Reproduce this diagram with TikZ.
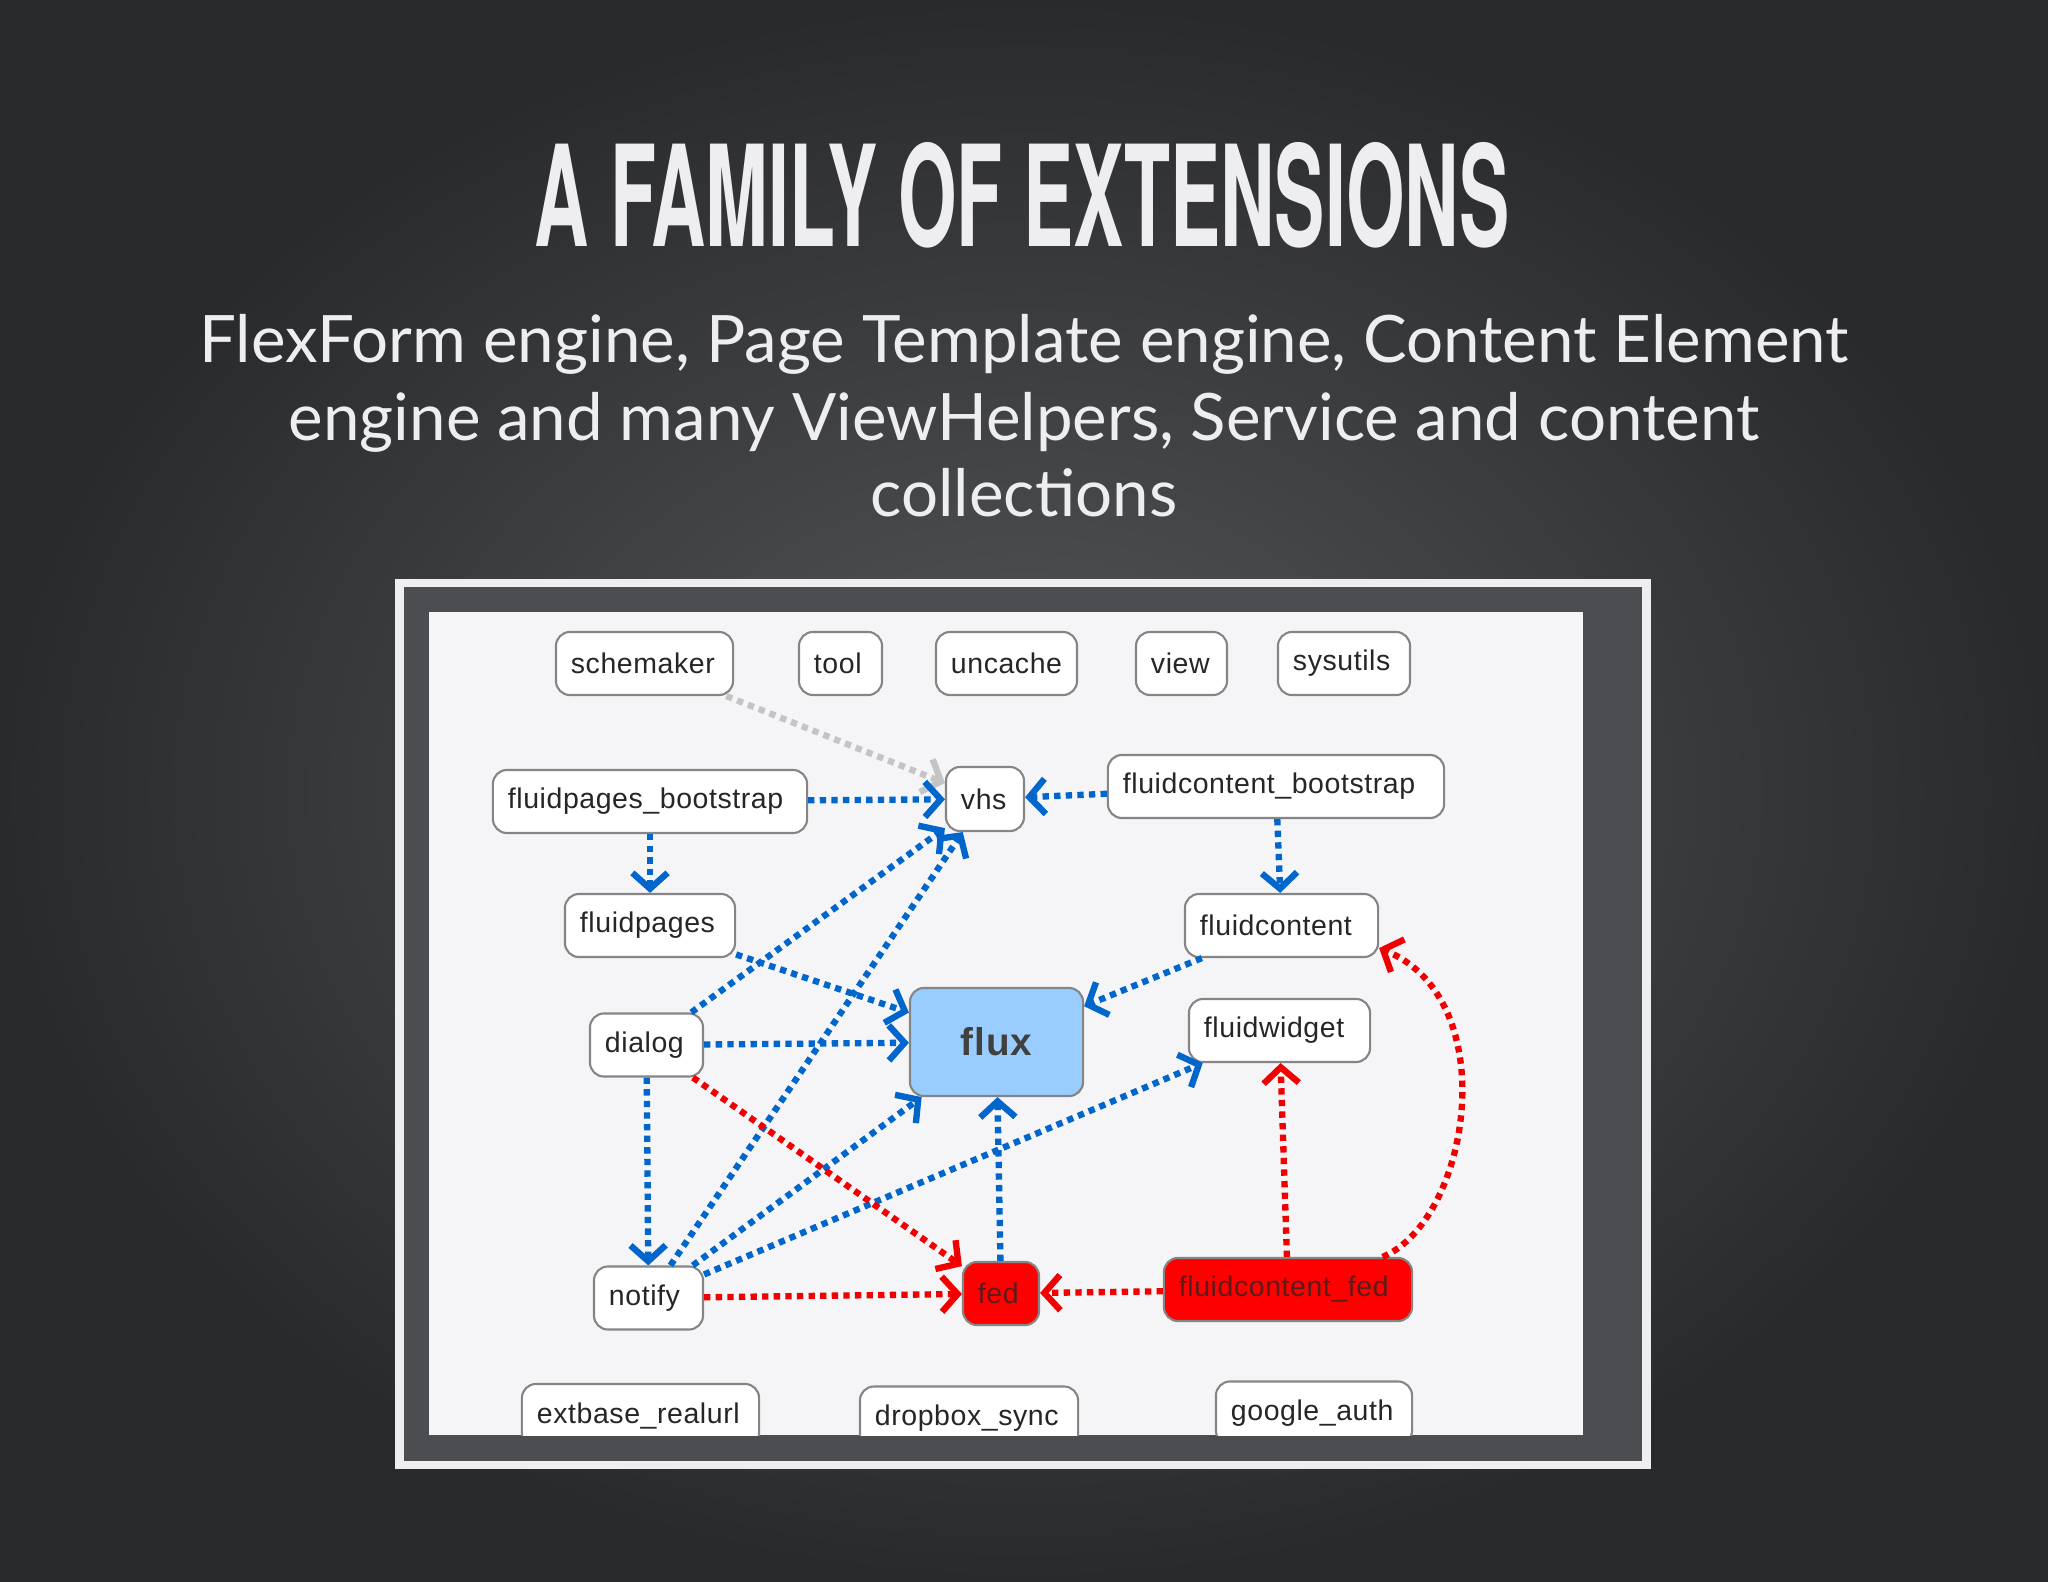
\documentclass[tikz,border=0pt]{standalone}
\usepackage{fontspec}
\setmainfont{Liberation Sans}[LetterSpace=2]
\newfontfamily\latofont{Lato}
\newfontfamily\headfont{TeX Gyre Heros}
\usepackage{graphicx}
\usetikzlibrary{arrows.meta,calc}
\definecolor{bgdark}{HTML}{292A2C}
\definecolor{bglight}{HTML}{55575A}
\definecolor{framedark}{HTML}{4C4D51}
\definecolor{framewhite}{HTML}{EEEEF0}
\definecolor{canvas}{HTML}{F5F5F7}
\definecolor{edgeblue}{HTML}{0066CC}
\definecolor{edgered}{HTML}{F00000}
\definecolor{edgegray}{HTML}{C4C4C4}
\definecolor{boxline}{HTML}{858585}
\definecolor{fluxblue}{HTML}{99CCFF}
\definecolor{fedtext}{HTML}{5E1A1A}
\tikzstyle{pkg}=[shape=rectangle, rounded corners=0.14cm, draw=boxline, line width=0.6pt, fill=white, minimum height=0.63cm, inner xsep=0.15cm, inner ysep=0, align=left, font=\fontsize{8.1}{10}\selectfont, text=black!85]
\tikzstyle{fedpkg}=[pkg, fill=red, text=fedtext]
\tikzstyle{sub}=[anchor=base, inner sep=0, text=framewhite, font=\latofont\fontsize{18.6}{21}\selectfont]
\tikzstyle{dep}=[line width=1.8pt, dash pattern=on 1.8pt off 1.5pt, -{Straight Barb[length=4.5pt,width=10pt]}]
\tikzstyle{bdep}=[dep, draw=edgeblue]
\tikzstyle{rdep}=[dep, draw=edgered]
\tikzstyle{gdep}=[dep, draw=edgegray]

\begin{document}
\begin{tikzpicture}[x=0.01cm, y=-0.01cm]
\useasboundingbox (0,0) rectangle (2048,1582);
\shade[inner color=bglight, outer color=bgdark] (0,0) rectangle (2048,1582);
%
\draw (1022,247) node[anchor=base, inner sep=0, text=framewhite] (title) {\resizebox{9.74cm}{1.04cm}{\headfont\bfseries A FAMILY OF EXTENSIONS}};
\draw (1024,362) node[sub] (sub1) {FlexForm engine, Page Template engine, Content Element};
\draw (1024,440) node[sub] (sub2) {engine and many ViewHelpers, Service and content};
\draw (1024,516) node[sub] (sub3) {collections};
%
\fill[framewhite] (395,579) rectangle (1651,1469);
\fill[framedark] (404,587) rectangle (1642,1461);
\fill[canvas] (429,612) rectangle (1583,1435);
%
\begin{scope}
\clip (429,612) rectangle (1583,1435);
\draw (644.5,663.5) node[pkg, text width=1.47cm] (schemaker) {schemaker};
\draw (840.5,663.5) node[pkg, text width=0.53cm] (tool) {tool};
\draw (1006.5,663.5) node[pkg, text width=1.11cm] (uncache) {uncache};
\draw (1181.5,663.5) node[pkg, text width=0.61cm] (view) {view};
\draw (1344,663.5) node[pkg, text width=1.02cm] (sysutils) {sysutils};
%
\draw (650,801.5) node[pkg, text width=2.84cm] (fpb) {fluidpages\_bootstrap};
\draw (985,799) node[pkg, text width=0.48cm, minimum height=0.64cm] (vhs) {vhs};
\draw (1276,786.5) node[pkg, text width=3.06cm] (fcb) {fluidcontent\_bootstrap};
\draw (650,925.5) node[pkg, text width=1.40cm] (fpages) {fluidpages};
\draw (1281.5,925.5) node[pkg, text width=1.63cm] (fcontent) {fluidcontent};
\draw (996.5,1042) node[pkg, fill=fluxblue, text=black!75, align=center, text width=1.43cm, minimum height=1.08cm, font=\bfseries\fontsize{11}{13}\selectfont] (flux) {flux};
\draw (1279.5,1030.5) node[pkg, text width=1.51cm] (fwidget) {fluidwidget};
\draw (646.5,1045) node[pkg, text width=0.83cm] (dialog) {dialog};
\draw (648.5,1298) node[pkg, text width=0.79cm] (notify) {notify};
\draw (1001,1293.5) node[fedpkg, text width=0.46cm] (fed) {fed};
\draw (1288,1289.5) node[fedpkg, text width=2.18cm] (fcfed) {fluidcontent\_fed};
%
\draw (640.5,1415.5) node[pkg, text width=2.07cm] (realurl) {extbase\_realurl};
\draw (969,1418) node[pkg, text width=1.88cm] (dropbox) {dropbox\_sync};
\draw (1314,1413) node[pkg, text width=1.66cm] (gauth) {google\_auth};
%
\draw[gdep] (schemaker)--(vhs);
\foreach \a/\b in {fpb/vhs, fcb/vhs, fpb/fpages, fcb/fcontent, fpages/flux, fcontent/flux, dialog/vhs, dialog/flux, dialog/notify, notify/vhs, notify/flux, notify/fwidget, fed/flux}
    {\draw[bdep] (\a)--(\b);}
\foreach \a/\b in {dialog/fed, notify/fed, fcfed/fed, fcfed/fwidget}
    {\draw[rdep] (\a)--(\b);}
\draw[rdep] (fcfed.19) .. controls (1470,1220) and (1505,1000) .. (fcontent.-13);
\end{scope}
\end{tikzpicture}
\end{document}
